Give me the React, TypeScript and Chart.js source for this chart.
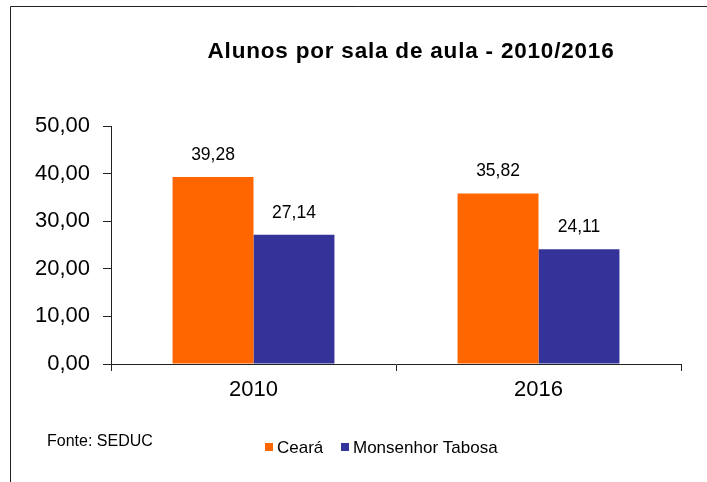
import React, { useEffect, useRef } from "react";
import { Chart, registerables } from "chart.js";

Chart.register(...registerables);

const categories = ["2010", "2016"];
const seriesNames = ["Ceará", "Monsenhor Tabosa"];
const cearaValues = [39.28, 35.82];
const monsenhorValues = [27.14, 24.11];
const seriesColors = ["#FF6600", "#333399"];
const titleText = "Alunos por sala de aula - 2010/2016";
const sourceText = "Fonte: SEDUC";

const FONT = '"Liberation Sans", Arial, sans-serif';
const fmt = (v: number) => v.toFixed(2).replace(".", ",");

export default function App() {
  const ref = useRef<HTMLCanvasElement | null>(null);
  useEffect(() => {
    const canvas = ref.current!;
    const decor = {
      id: "decor",
      afterDatasetsDraw(chart: any) {
        const ctx = chart.ctx;
        ctx.save();
        // data labels
        ctx.fillStyle = "#000";
        ctx.font = `17.5px ${FONT}`;
        ctx.textAlign = "center";
        ctx.textBaseline = "alphabetic";
        chart.data.datasets.forEach((ds: any, i: number) => {
          const meta = chart.getDatasetMeta(i);
          meta.data.forEach((bar: any, j: number) => {
            ctx.fillText(fmt(ds.data[j]), bar.x, bar.y - 17);
          });
        });
        // title
        ctx.font = `bold 22.5px ${FONT}`;
        try { (ctx as any).letterSpacing = "0.8px"; } catch (e) {}
        ctx.fillText(titleText, 411, 58);
        try { (ctx as any).letterSpacing = "0px"; } catch (e) {}
        // source
        ctx.textAlign = "left";
        ctx.font = `16px ${FONT}`;
        ctx.fillText(sourceText, 47, 446);
        // legend
        const items = [
          { x: 265, label: seriesNames[0], color: seriesColors[0] },
          { x: 341, label: seriesNames[1], color: seriesColors[1] },
        ];
        ctx.font = `17px ${FONT}`;
        items.forEach((it) => {
          ctx.fillStyle = it.color;
          ctx.fillRect(it.x, 443, 8, 8);
          ctx.fillStyle = "#000";
          ctx.fillText(it.label, it.x + 12, 453);
        });
        // frame
        ctx.strokeStyle = "#222";
        ctx.lineWidth = 1;
        ctx.beginPath();
        ctx.moveTo(10.5, 482);
        ctx.lineTo(10.5, 6.5);
        ctx.lineTo(707, 6.5);
        ctx.stroke();
        ctx.restore();
      },
    };
    const chart = new Chart(canvas, {
      type: "bar",
      data: {
        labels: categories,
        datasets: [
          {
            label: seriesNames[0],
            data: cearaValues,
            backgroundColor: seriesColors[0],
            categoryPercentage: 0.568,
            barPercentage: 1,
          },
          {
            label: seriesNames[1],
            data: monsenhorValues,
            backgroundColor: seriesColors[1],
            categoryPercentage: 0.568,
            barPercentage: 1,
          },
        ],
      },
      options: {
        responsive: false,
        animation: false,
        layout: { padding: { left: 0, right: 26, top: 126, bottom: 78 } },
        plugins: { legend: { display: false }, title: { display: false }, tooltip: { enabled: false } },
        scales: {
          x: {
            offset: true,
            grid: { offset: true, drawOnChartArea: false, drawTicks: true, tickLength: 7, color: "#222" },
            border: { display: true, color: "#222", width: 1 },
            ticks: { color: "#000", font: { family: FONT, size: 22 }, padding: 6 },
            afterFit: (s: any) => { s.height = 40; },
          },
          y: {
            min: 0,
            max: 50,
            ticks: {
              stepSize: 10,
              color: "#000",
              font: { family: FONT, size: 22 },
              padding: 13,
              callback: (v: any) => fmt(Number(v)),
            },
            grid: { drawOnChartArea: false, drawTicks: true, tickLength: 8, color: "#222" },
            border: { display: true, color: "#222", width: 1 },
            afterFit: (s: any) => { s.width = 111; },
          },
        },
      },
      plugins: [decor],
    });
    return () => chart.destroy();
  }, []);
  return (
    <div style={{ position: "fixed", left: 0, top: 0, width: 707, height: 482, background: "#fff" }}>
      <canvas ref={ref} width={707} height={482} style={{ width: 707, height: 482 }} />
    </div>
  );
}
